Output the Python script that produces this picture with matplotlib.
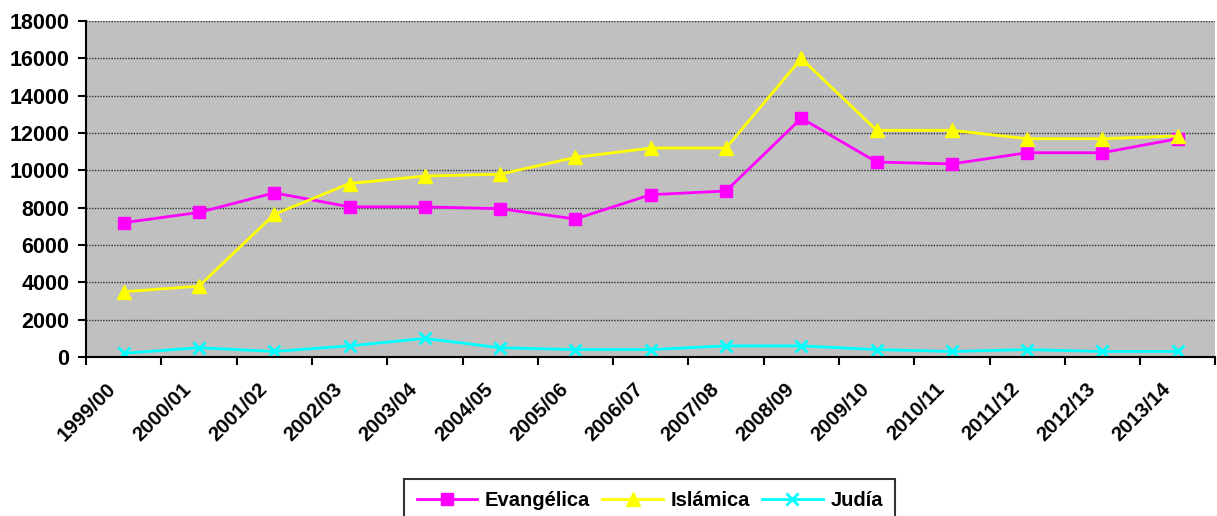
import numpy as np
import matplotlib
matplotlib.use("Agg")
import matplotlib.pyplot as plt
import matplotlib.transforms as mtransforms

plt.rcParams['font.family'] = ['Liberation Sans', 'DejaVu Sans']
plt.rcParams['font.weight'] = 'bold'

years = ['1999/00', '2000/01', '2001/02', '2002/03', '2003/04', '2004/05', '2005/06',
         '2006/07', '2007/08', '2008/09', '2009/10', '2010/11', '2011/12', '2012/13', '2013/14']
evangelica = [7200, 7750, 8800, 8050, 8050, 7950, 7400, 8700, 8900, 12800,
              10450, 10350, 10950, 10950, 11700]
islamica = [3500, 3800, 7650, 9300, 9700, 9800, 10700, 11200, 11200, 16000,
            12150, 12150, 11700, 11700, 11850]
judia = [200, 500, 300, 600, 1000, 500, 400, 400, 600, 600,
         400, 300, 400, 300, 300]

fig = plt.figure(figsize=(12.17, 5.16), dpi=100)
ax = fig.add_axes([0.0707, 0.308, 0.928, 0.651])
ax.set_facecolor('#C0C0C0')

x = np.arange(len(years))
ax.plot(x, evangelica, color='#FF00FF', lw=2, marker='s', ms=9, label='Evangélica')
ax.plot(x, islamica, color='#FFFF00', lw=2, marker='^', ms=10, label='Islámica')
ax.plot(x, judia, color='#00FFFF', lw=2, marker='x', ms=8, mew=2, label='Judía')

ax.set_xlim(-0.5, len(years) - 0.5)
ax.set_ylim(0, 18000)
ax.set_yticks(range(0, 18001, 2000))
ax.yaxis.grid(True, color='#303030', linestyle=(0, (1, 1)), lw=1)
ax.set_axisbelow(True)

# category labels at centres, tick marks at boundaries
ax.set_xticks(x)
ax.set_xticklabels(years, rotation=45, ha='right', rotation_mode='anchor', fontsize=14.7, fontweight='bold')
ax.tick_params(axis='x', length=0, pad=8)
offset = mtransforms.ScaledTranslation(-0.17, -0.11, fig.dpi_scale_trans)
for t in ax.get_xticklabels():
    t.set_transform(t.get_transform() + offset)
ax.set_xticks(np.arange(-0.5, len(years), 1), minor=True)
ax.tick_params(axis='x', which='minor', length=6, width=1.5, color='black')
ax.tick_params(axis='y', length=6, width=1.5, labelsize=15.5, pad=6)
for t in ax.get_yticklabels():
    t.set_fontweight('bold')

ax.spines['right'].set_visible(False)
ax.spines['top'].set_visible(False)
ax.spines['left'].set_linewidth(1.5)
ax.spines['bottom'].set_linewidth(1.5)

leg = fig.legend(loc='lower center', bbox_to_anchor=(0.534, -0.031), ncol=3, frameon=True,
                 fancybox=False, edgecolor='black', handlelength=3, columnspacing=0.6,
                 handletextpad=0.4, borderpad=0.6, prop={'size': 14.5, 'weight': 'bold'})
leg.get_frame().set_linewidth(1.5)

fig.savefig('out.png', dpi=100)
